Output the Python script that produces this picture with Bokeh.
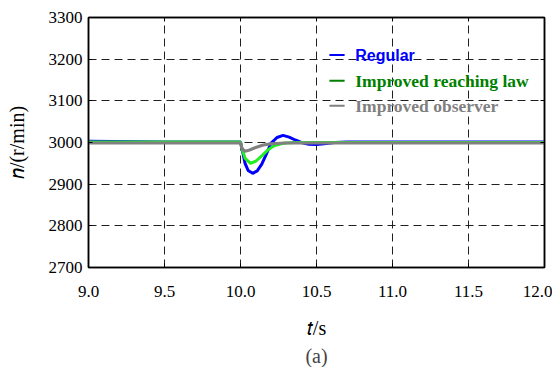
from bokeh.plotting import figure
from bokeh.models import LinearAxis, Title, Range1d, FixedTicker
from bokeh.embed import file_html
from bokeh.resources import INLINE
from bokeh.core.properties import value

# ---- data ----
t_regular = [9.0, 9.5, 10.0, 10.01, 10.03, 10.05, 10.08, 10.11, 10.14, 10.17, 10.2,
             10.24, 10.28, 10.32, 10.36, 10.4, 10.45, 10.5, 10.55, 10.62, 10.7, 11.5, 12.0]
n_regular = [3003, 3001, 3001, 2985, 2950, 2933, 2926, 2932, 2948, 2972, 2998,
             3012, 3017, 3013, 3006, 3000, 2996, 2995, 2997, 3000, 3001, 3001, 3001]

t_reach = [9.0, 9.5, 10.0, 10.01, 10.03, 10.066, 10.1, 10.14, 10.18, 10.22, 10.28,
           10.35, 11.0, 12.0]
n_reach = [3001, 3001, 3001, 2985, 2962, 2950, 2955, 2968, 2982, 2992, 2998,
           3000, 3000, 3000]

t_obs = [9.0, 9.5, 10.0, 10.01, 10.03, 10.06, 10.1, 10.15, 10.2, 10.3, 11.0, 12.0]
n_obs = [2999, 2999, 2999, 2985, 2979, 2982, 2988, 2994, 2997, 2999, 2999, 2999]

x_ticks = [9.0, 9.5, 10.0, 10.5, 11.0, 11.5, 12.0]
y_ticks = [2700, 2800, 2900, 3000, 3100, 3200, 3300]
legend_labels = ["Regular", "Improved reaching law", "Improved observer"]
x_title = "\U0001D461/s"          # italic t
y_title = "\U0001D45B/(r/min)"    # italic n
caption = "(a)"

serif = "Liberation Serif, serif"

p = figure(width=552, height=367, output_backend="svg", toolbar_location=None,
           x_range=Range1d(9.0, 12.0), y_range=Range1d(2700, 3300),
           min_border_left=88, min_border_right=8, min_border_top=17,
           min_border_bottom=4)
p.xaxis.visible = False
p.yaxis.visible = False
p.outline_line_color = "black"
p.outline_line_width = 1.5
p.background_fill_color = "white"

def style_axis(ax, labels=True):
    ax.major_label_text_font = serif
    ax.major_label_text_font_size = "17px" if labels else "0px"
    ax.major_label_text_color = "black"
    ax.axis_line_color = "black"
    ax.axis_line_width = 1.5
    ax.major_tick_in = 4
    ax.major_tick_out = 0
    ax.minor_tick_in = 0
    ax.minor_tick_out = 0
    ax.major_tick_line_color = "black"
    ax.major_label_standoff = 6 if labels else 0
    ax.axis_label_text_font = serif
    ax.axis_label_text_font_style = "normal"
    ax.axis_label_text_font_size = "20px"
    ax.axis_label_text_color = "black"

xb = LinearAxis(ticker=FixedTicker(ticks=x_ticks))
style_axis(xb)
xb.major_label_standoff = 18
xb.major_label_overrides = {v: f"{v:.1f}" for v in x_ticks}
xb.axis_label = x_title
xb.axis_label_standoff = 17
yl = LinearAxis(ticker=FixedTicker(ticks=y_ticks))
style_axis(yl)
yl.axis_label = y_title
yl.axis_label_standoff = 18
xt = LinearAxis(ticker=FixedTicker(ticks=x_ticks))
style_axis(xt, labels=False)
yr = LinearAxis(ticker=FixedTicker(ticks=y_ticks))
style_axis(yr, labels=False)
p.add_layout(xb, "below")
p.add_layout(yl, "left")
p.add_layout(xt, "above")
p.add_layout(yr, "right")

p.add_layout(Title(text=caption, align="center", text_font=serif,
                   text_font_size="20px", text_font_style="normal",
                   standoff=2, offset=0), "below")

for g, tk in ((p.xgrid, x_ticks), (p.ygrid, y_ticks)):
    g.ticker = FixedTicker(ticks=tk)
    g.grid_line_color = "#202020"
    g.grid_line_dash = "8 5"
    g.grid_line_width = 1

p.line(t_regular, n_regular, line_color="#0000ff", line_width=3)
p.line(t_reach, n_reach, line_color="#22ee22", line_width=3)
p.line(t_obs, n_obs, line_color="#808080", line_width=3)

# legend (drawn manually, per-item fonts)
leg_colors = ["#0000ff", "#008000", "#808080"]
leg_fonts = ["Liberation Sans", "Liberation Serif", "Liberation Serif"]
leg_sizes = ["16px", "17.5px", "17.5px"]
leg_y = [3210, 3148, 3088]
for lab, c, f, s, yy in zip(legend_labels, leg_colors, leg_fonts, leg_sizes, leg_y):
    p.line([10.585, 10.685], [yy, yy], line_color=c, line_width=2)
    p.text(x=[10.755], y=[yy], text=[lab], text_color=c, text_font=value(f),
           text_font_size=s, text_font_style="bold", text_baseline="middle")

open("out.html", "w").write(file_html(p, INLINE))
